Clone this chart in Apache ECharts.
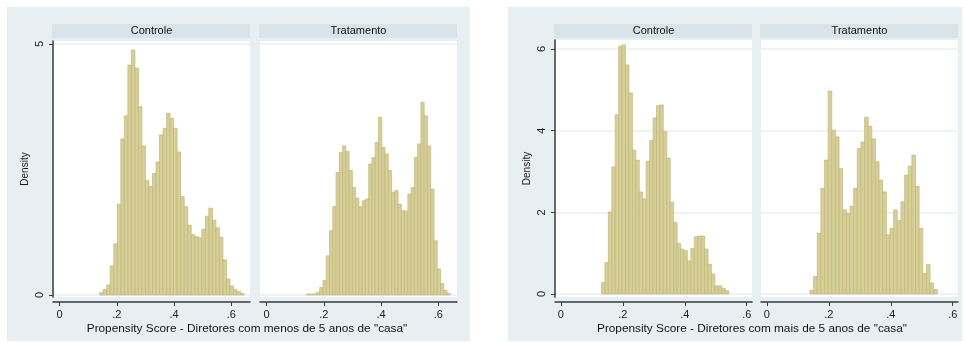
<!DOCTYPE html>
<html><head><meta charset="utf-8">
<script src="https://cdn.jsdelivr.net/npm/echarts@6/dist/echarts.min.js"></script>
<style>
html,body{margin:0;padding:0;background:#fff;overflow:hidden;}
#wrap{position:relative;width:965px;height:343px;}
.bg{position:absolute;background:#e8eff2;}
#c{position:absolute;left:0;top:0;width:965px;height:343px;}
</style></head><body>
<div id="wrap">
<div class="bg" style="left:7px;top:7px;width:463px;height:334px"></div>
<div class="bg" style="left:508px;top:7px;width:454px;height:334px"></div>
<div id="c"></div>
</div>
<script>
// ---------- data ----------
const panelTitles = ['Controle', 'Tratamento'];
const xTickValues = [0, 0.2, 0.4, 0.6];
const yTicksLeft = [0, 5];
const yTicksRight = [0, 2, 4, 6];
const yTitle = 'Density';
const xTitleLeft = 'Propensity Score - Diretores com menos de 5 anos de "casa"';
const xTitleRight = 'Propensity Score - Diretores com mais de 5 anos de "casa"';

// Left chart (menos de 5 anos) - Controle
const leftCtrlStart = 0.14, leftCtrlWidth = 0.0123;
const leftCtrl = [0.05,0.11,0.20,0.58,1.02,1.81,3.11,3.57,4.58,4.88,4.52,3.75,2.97,2.28,2.16,2.42,2.65,3.19,3.32,3.62,3.52,3.32,2.85,1.96,1.76,1.39,1.20,1.16,1.14,1.31,1.57,1.73,1.49,1.34,1.15,0.70,0.32,0.18,0.11,0.07,0.03];
// Left chart - Tratamento
const leftTratStart = 0.14, leftTratWidth = 0.0114;
const leftTrat = [0.02,0.02,0.02,0.05,0.15,0.29,0.78,1.28,1.76,2.44,2.84,2.97,2.86,2.48,2.14,1.93,1.76,1.88,1.91,2.61,2.74,3.04,3.54,2.94,2.81,2.48,2.05,2.08,1.81,1.68,1.67,2.01,2.14,2.74,3.01,3.84,3.57,2.97,2.11,1.08,0.52,0.23,0.09,0.03];
// Right chart (mais de 5 anos) - Controle
const rightCtrlStart = 0.131, rightCtrlWidth = 0.0111;
const rightCtrl = [0.28,0.77,2.01,3.11,4.39,6.07,6.10,5.61,4.92,3.52,3.28,2.50,2.33,3.25,3.76,4.31,4.61,4.63,3.98,3.33,2.25,1.75,1.24,1.10,1.06,0.81,1.11,1.40,1.42,1.42,1.10,0.73,0.49,0.20,0.20,0.14,0.08];
// Right chart - Tratamento
const rightTratStart = 0.139, rightTratWidth = 0.01175;
const rightTrat = [0.09,0.43,1.49,2.59,3.28,4.97,4.01,3.85,3.07,2.06,1.98,2.15,2.59,3.56,3.72,4.33,4.11,3.80,3.24,2.79,2.50,1.45,1.61,2.06,1.80,2.26,2.91,3.13,3.40,2.64,1.61,0.50,0.72,0.27,0.11];

// ---------- style ----------
const FONT = "'Liberation Sans', Arial, sans-serif";
const BAR_FILL = '#d6cf98';
const BAR_STROKE = '#c2b87a';
const AXIS_COLOR = '#3a3a3a';
const GRID_COLOR = '#e9f0f3';
const STRIP_COLOR = '#d8e3ea';

function bins(start, width, vals) {
  return vals.map((v, i) => [start + i * width, start + (i + 1) * width, v]);
}
function fmtX(v) {
  if (v === 0) return '0';
  return String(Math.round(v * 10) / 10).replace(/^0/, '');
}
function renderItem(params, api) {
  const p0 = api.coord([api.value(0), api.value(2)]);
  const p1 = api.coord([api.value(1), 0]);
  return {
    type: 'rect',
    shape: { x: p0[0], y: p0[1], width: p1[0] - p0[0], height: p1[1] - p0[1] },
    style: { fill: BAR_FILL, stroke: BAR_STROKE, lineWidth: 0.7 }
  };
}

const panels = [
  { left: 53,  top: 41, width: 197, height: 256, xmin: -0.023, xmax: 0.665, ymin: -0.04, ymax: 5.06, yTicks: yTicksLeft, showY: true,  data: bins(leftCtrlStart, leftCtrlWidth, leftCtrl) },
  { left: 260, top: 41, width: 197, height: 256, xmin: -0.023, xmax: 0.665, ymin: -0.04, ymax: 5.06, yTicks: yTicksLeft, showY: false, data: bins(leftTratStart, leftTratWidth, leftTrat) },
  { left: 555, top: 40, width: 197, height: 257, xmin: -0.019, xmax: 0.617, ymin: -0.073, ymax: 6.22, yTicks: yTicksRight, showY: true,  data: bins(rightCtrlStart, rightCtrlWidth, rightCtrl) },
  { left: 761, top: 40, width: 197, height: 257, xmin: -0.019, xmax: 0.617, ymin: -0.073, ymax: 6.22, yTicks: yTicksRight, showY: false, data: bins(rightTratStart, rightTratWidth, rightTrat) }
];

const grid = [], xAxis = [], yAxis = [], series = [], graphic = [];
panels.forEach((p, i) => {
  grid.push({ left: p.left, top: p.top, width: p.width, height: p.height, show: true, backgroundColor: '#ffffff', borderWidth: 0 });
  xAxis.push({
    type: 'value', gridIndex: i, min: p.xmin, max: p.xmax, position: 'bottom', offset: 5,
    axisLine: { show: true, onZero: false, lineStyle: { color: AXIS_COLOR, width: 1.5 } },
    axisTick: { show: true, length: 4, customValues: xTickValues, lineStyle: { color: AXIS_COLOR, width: 1 } },
    axisLabel: { customValues: xTickValues, formatter: fmtX, fontSize: 11, color: '#1a1a1a', margin: 7, fontFamily: FONT },
    splitLine: { show: false }
  });
  yAxis.push({
    type: 'value', gridIndex: i, min: p.ymin, max: p.ymax, position: 'left', offset: 0,
    axisLine: { show: p.showY, onZero: false, lineStyle: { color: AXIS_COLOR, width: 1.5 } },
    axisTick: { show: p.showY, length: 4, customValues: p.yTicks, lineStyle: { color: AXIS_COLOR, width: 1 } },
    axisLabel: { show: p.showY, customValues: p.yTicks, rotate: 90, fontSize: 11, color: '#1a1a1a', margin: 8, fontFamily: FONT },
    splitLine: { show: true, lineStyle: { color: GRID_COLOR, width: 1.5 } },
    name: p.showY ? yTitle : '', nameLocation: 'middle', nameGap: 23,
    nameTextStyle: { fontSize: 10, color: '#1a1a1a', fontFamily: FONT }
  });
  series.push({
    type: 'custom', xAxisIndex: i, yAxisIndex: i, renderItem: renderItem,
    encode: { x: [0, 1], y: 2 }, data: p.data, silent: true, clip: true
  });
  graphic.push({
    type: 'rect', silent: true, z: 10,
    shape: { x: p.left - 1, y: 24, width: p.width + 1, height: 14 },
    style: { fill: STRIP_COLOR }
  });
  graphic.push({
    type: 'text', silent: true, z: 11,
    x: p.left + p.width / 2, y: 31,
    style: { text: panelTitles[i % 2], fontSize: 11, fill: '#111', fontFamily: FONT, align: 'center', verticalAlign: 'middle' }
  });
});
graphic.push({
  type: 'text', silent: true, z: 11, x: 247, y: 329,
  style: { text: xTitleLeft, fontSize: 11.8, fill: '#111', fontFamily: FONT, align: 'center', verticalAlign: 'middle' }
});
graphic.push({
  type: 'text', silent: true, z: 11, x: 752, y: 329,
  style: { text: xTitleRight, fontSize: 11.8, fill: '#111', fontFamily: FONT, align: 'center', verticalAlign: 'middle' }
});

const chart = echarts.init(document.getElementById('c'), null, { renderer: 'canvas' });
chart.setOption({
  animation: false,
  backgroundColor: 'transparent',
  grid, xAxis, yAxis, series, graphic
});
</script>
</body></html>
